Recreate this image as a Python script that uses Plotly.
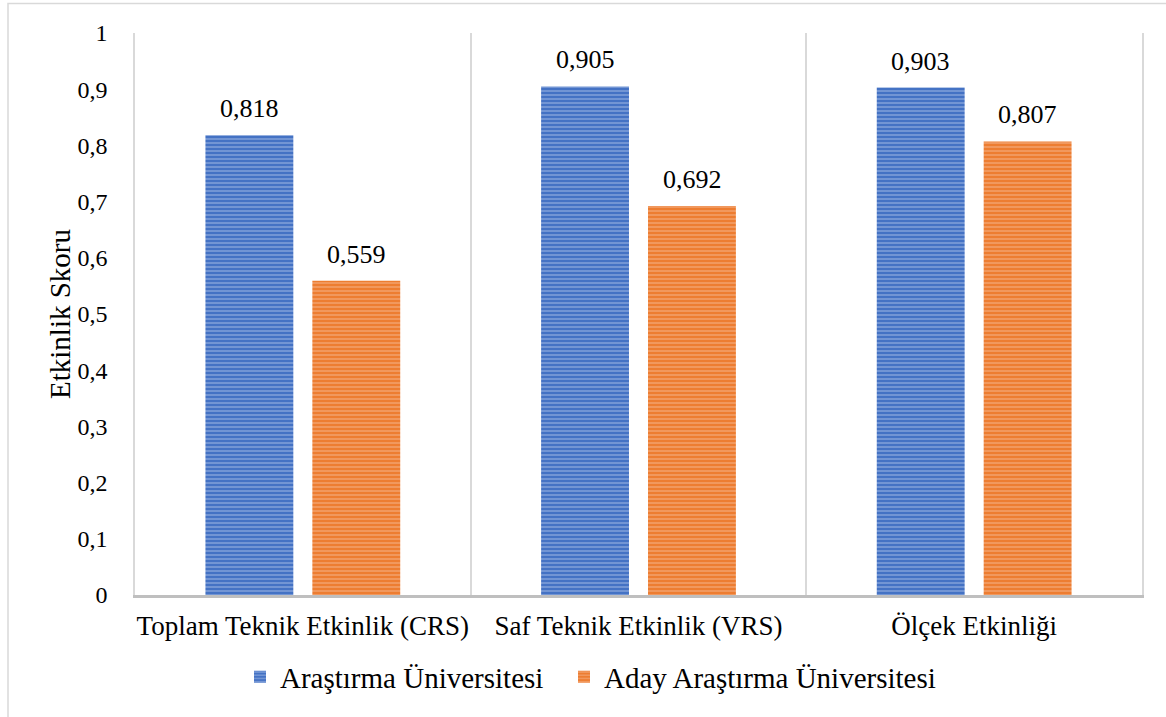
import plotly.graph_objects as go

categories = ["Toplam Teknik Etkinlik (CRS)", "Saf Teknik Etkinlik (VRS)", "Ölçek Etkinliği"]
series_names = ["Araştırma Üniversitesi", "Aday Araştırma Üniversitesi"]
arastirma = [0.818, 0.905, 0.903]
aday = [0.559, 0.692, 0.807]
y_ticks = [0, 0.1, 0.2, 0.3, 0.4, 0.5, 0.6, 0.7, 0.8, 0.9, 1]
y_title = "Etkinlik Skoru"

W, H = 1166, 717
L, R, T, B = 135, 24, 33, 122
pw, ph = W - L - R, H - T - B

FONT = "Liberation Serif"
colors = ["#4472C4", "#ED7D31"]
stripe = ["#C9D7F0", "#F8CBAD"]
legend_ids = ["legend", "legend2"]
legend_left = [240, 564]

fig = go.Figure()
for name, vals, c, s, lg in zip(series_names, [arastirma, aday], colors, stripe, legend_ids):
    fig.add_trace(go.Bar(
        x=categories, y=vals, name=name, legend=lg,
        marker=dict(color=c, line=dict(width=0),
                    pattern=dict(shape="-", fgcolor=s, bgcolor=c, size=4, solidity=0.35, fillmode="overlay")),
        hoverinfo="skip",
    ))

annotations = []
for i, vals in enumerate([arastirma, aday]):
    for j, v in enumerate(vals):
        annotations.append(dict(
            x=categories[j], y=v, xref="x", yref="y",
            text=f"{v:.3f}".replace(".", ","), showarrow=False,
            xshift=(-53.5 if i == 0 else 53.5), yshift=10, yanchor="bottom",
            font=dict(family=FONT, size=26, color="#000000"),
        ))
annotations.append(dict(
    text=y_title, xref="paper", yref="paper", x=(60 - L) / pw, y=0.5,
    xanchor="center", yanchor="middle", textangle=-90, showarrow=False,
    font=dict(family=FONT, size=29, color="#000000"),
))

legend_style = dict(orientation="h", xanchor="left",
                    y=(H - B - 677) / ph, yanchor="middle",
                    font=dict(family=FONT, size=29, color="#000000"),
                    itemwidth=30, tracegroupgap=0, bgcolor="rgba(0,0,0,0)")

fig.update_layout(
    width=W, height=H,
    margin=dict(l=L, r=R, t=T, b=B, autoexpand=False),
    paper_bgcolor="white", plot_bgcolor="white",
    separators=",.",
    barmode="group", bargap=0.363, bargroupgap=0.178,
    font=dict(family=FONT, size=24, color="#000000"),
    annotations=annotations,
    showlegend=True,
    legend=dict(x=(legend_left[0] - L) / pw, **legend_style),
    legend2=dict(x=(legend_left[1] - L) / pw, **legend_style),
    shapes=[dict(type="rect", xref="paper", yref="paper",
                 x0=(8 - L) / pw, x1=(W + 10 - L) / pw,
                 y0=(H - B - (H + 10)) / ph, y1=(H - B - 3.5) / ph,
                 line=dict(color="#D9D9D9", width=1.5), layer="below")],
)
fig.update_xaxes(
    type="category", tickson="boundaries", showgrid=True, gridcolor="#D9D9D9", gridwidth=1.5,
    ticks="", showline=True, linecolor="#BFBFBF", linewidth=3, tickangle=0, automargin=False,
    ticklabelstandoff=5, tickfont=dict(family=FONT, size=27, color="#000000"),
    range=[-0.5, 2.5],
)
fig.update_yaxes(
    range=[0, 1], tickvals=y_ticks, tickformat=".1~f", showgrid=False, zeroline=False,
    showline=True, mirror=True, linecolor="#D9D9D9", linewidth=1.5, automargin=False,
    ticks="", ticklabelstandoff=21, tickfont=dict(family=FONT, size=24, color="#000000"),
)

fig.write_html("out.html", config={"displayModeBar": False},
               post_script="document.body.style.margin='0';document.body.style.overflow='hidden';")
